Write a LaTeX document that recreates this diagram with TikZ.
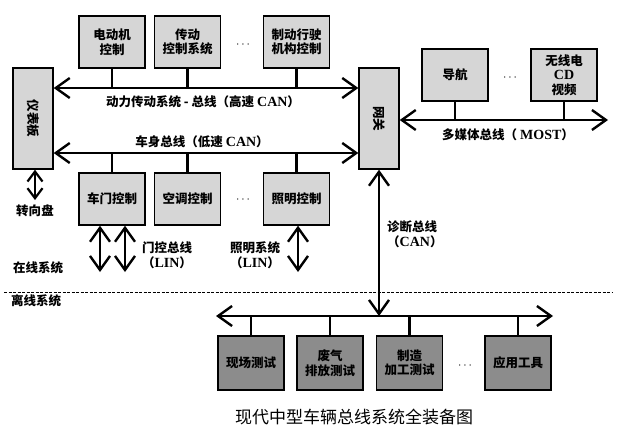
\documentclass[tikz,border=0pt]{standalone}
\usepackage{fontspec}
\setmainfont{Liberation Serif}
\newfontfamily\cjk{Noto Sans CJK SC}
\usetikzlibrary{arrows.meta}
\newcommand\zhs[1]{{\cjk #1}}
\newcommand\lat[1]{{\fontsize{14}{14.5}\selectfont #1}}
\begin{document}
\begin{tikzpicture}[x=1pt,y=-1pt,
  box/.style={draw, line width=1.4pt, fill=black!16, minimum width=66pt, minimum height=52pt, align=center, inner sep=1pt, font=\fontsize{12.5}{14.5}\selectfont\bfseries},
  dbox/.style={box, fill=black!45, minimum height=54pt},
  tall/.style={box, minimum width=40pt, minimum height=101pt},
  stub/.style={line width=2.2pt},
  bus/.style={line width=2.4pt, {Straight Barb[length=14pt,width=20pt]}-{Straight Barb[length=14pt,width=20pt]}},
  shortbus/.style={line width=2.2pt, {Straight Barb[length=10pt,width=15pt]}-{Straight Barb[length=10pt,width=15pt]}},
  lbl/.style={font=\fontsize{12.5}{14.5}\selectfont\bfseries, align=center, inner sep=0pt},
  captext/.style={font=\fontsize{17}{19}\selectfont, inner sep=0pt},
  dots/.style={font=\fontsize{12}{14}\selectfont, inner sep=0pt}]
\useasboundingbox (0,0) rectangle (617,436);

% top (powertrain) boxes
\node[box] (m1) at (112,42) {\zhs{电动机}\\\zhs{控制}};
\node[box] (m2) at (187.5,42) {\zhs{传动}\\\zhs{控制系统}};
\node[dots] (d1) at (243,45) {$\cdots$};
\node[box] (m3) at (296.5,42) {\zhs{制动行驶}\\\zhs{机构控制}};

% side boxes
\node[tall] (yb) at (33,118.5) {\rotatebox{-90}{\zhs{仪表板}}};
\node[tall] (gw) at (379,118.5) {\rotatebox{-90}{\zhs{网关}}};

% body boxes
\node[box] (b1) at (112,199) {\zhs{车门控制}};
\node[box] (b2) at (187.5,199) {\zhs{空调控制}};
\node[dots] (d2) at (243,200) {$\cdots$};
\node[box] (b3) at (296.5,199) {\zhs{照明控制}};

% multimedia boxes
\node[box] (n1) at (455,75) {\zhs{导航}};
\node[dots] (d3) at (510,78) {$\cdots$};
\node[box] (n2) at (564,75) {\zhs{无线电}\\\lat{CD}\\\zhs{视频}};

% offline boxes
\node[dbox] (o1) at (251,363) {\zhs{现场测试}};
\node[dbox] (o2) at (330,363) {\zhs{废气}\\\zhs{排放测试}};
\node[dbox] (o3) at (409.5,363) {\zhs{制造}\\\zhs{加工测试}};
\node[dots] (d4) at (465,366) {$\cdots$};
\node[dbox] (o4) at (518,363) {\zhs{应用工具}};

% bus coordinates
\coordinate (pt) at (0,88);
\coordinate (bd) at (0,153);
\coordinate (mm) at (0,120);
\coordinate (mmR) at (608,120);
\coordinate (off) at (0,316);
\coordinate (offL) at (216,316);
\coordinate (offR) at (553,316);
\coordinate (lin) at (0,272);
\coordinate (sw) at (35,200);

% powertrain bus
\draw[bus] (yb.east |- pt) -- (gw.west |- pt);
\foreach \n in {m1,m2,m3} \draw[stub] (\n.south) -- (\n.south |- pt);
\node[lbl] (lpt) at (203,102) {\zhs{动力传动系统 - 总线（高速} \lat{CAN}\zhs{）}};

% body bus
\draw[bus] (yb.east |- bd) -- (gw.west |- bd);
\foreach \n in {b1,b2,b3} \draw[stub] (\n.north) -- (\n.north |- bd);
\node[lbl] (lbd) at (202,142) {\zhs{车身总线（低速} \lat{CAN}\zhs{）}};

% multimedia bus
\draw[bus] (gw.east |- mm) -- (mmR);
\foreach \n in {n1,n2} \draw[stub] (\n.south) -- (\n.south |- mm);
\node[lbl] (lmm) at (508,135) {\zhs{多媒体总线（} \lat{MOST}\zhs{）}};

% steering wheel
\draw[shortbus] (yb.south -| sw) -- (sw);
\node[lbl] (sl) at (35,211) {\zhs{转向盘}};

% LIN arrows
\draw[bus] (b1.south -| 100,0) -- (lin -| 100,0);
\draw[bus] (b1.south -| 125,0) -- (lin -| 125,0);
\draw[bus] (b3.south -| 298,0) -- (lin -| 298,0);
\node[lbl] (ll1) at (167,255) {\zhs{门控总线}\\[1pt]\zhs{（}\lat{LIN}\zhs{）}};
\node[lbl] (ll2) at (255,255) {\zhs{照明系统}\\[1pt]\zhs{（}\lat{LIN}\zhs{）}};

% online / offline separator
\node[lbl, anchor=west] (on) at (13,268) {\zhs{在线系统}};
\draw[line width=1pt, dash pattern=on 3pt off 1.5pt] (4,292) -- (613,292);
\node[lbl, anchor=west] (of) at (11,301) {\zhs{离线系统}};

% diagnostic bus
\draw[bus] (gw.south) -- (gw.south |- offL);
\node[lbl, anchor=west, align=left] (ldg) at (387,234) {\zhs{诊断总线}\\[1pt]\zhs{（}\lat{CAN}\zhs{）}};

% offline bus
\draw[bus] (offL) -- (offR);
\foreach \n in {o1,o2,o3,o4} \draw[stub] (\n.north) -- (\n.north |- off);

% caption
\node[captext] (cp) at (354,417) {\zhs{现代中型车辆总线系统全装备图}};
\end{tikzpicture}
\end{document}
